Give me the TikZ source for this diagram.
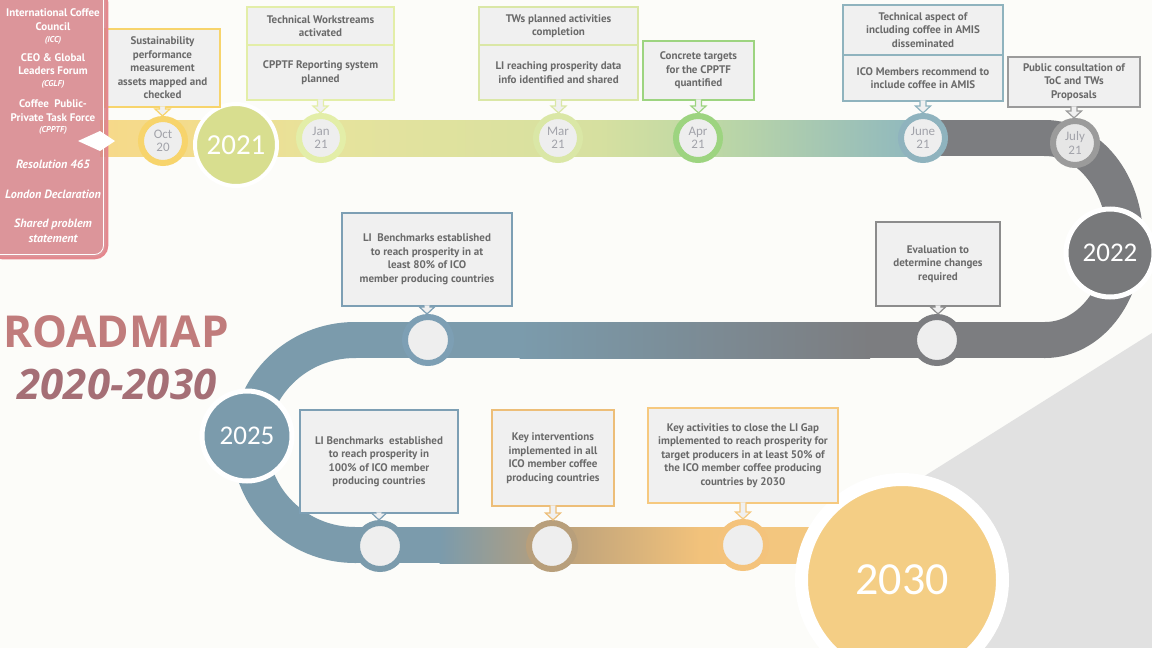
\documentclass[tikz,border=0pt]{standalone}
\usepackage{fontspec}
\setmainfont{PT Sans}
\newfontfamily\yearfont{Carlito}
\newfontfamily\titlefont{Open Sans}
\usetikzlibrary{calc,shapes.geometric}
\definecolor{bg}{HTML}{FCFCF9}
\definecolor{tri}{HTML}{E1E1E1}
\definecolor{boxfill}{HTML}{F0F0F0}
\definecolor{boxtext}{HTML}{6A6A6A}
\definecolor{innerc}{HTML}{EEEEEE}
\definecolor{monthtext}{HTML}{A2A3AA}
\definecolor{cyel}{HTML}{F7D46C}
\definecolor{cjan}{HTML}{E3EEA8}
\definecolor{cmar}{HTML}{DAE7A6}
\definecolor{capr}{HTML}{9DD480}
\definecolor{cjun}{HTML}{8FB3BE}
\definecolor{cjul}{HTML}{9B9B9B}
\definecolor{cblue}{HTML}{7B9BAC}
\definecolor{cblueb}{HTML}{7D9FB4}
\definecolor{cgray}{HTML}{7C7D80}
\definecolor{cgrayb}{HTML}{8C8C8C}
\definecolor{ctan}{HTML}{B89F7B}
\definecolor{ctanb}{HTML}{EDBE78}
\definecolor{corange}{HTML}{F4C37C}
\definecolor{corangeb}{HTML}{F6C97F}
\definecolor{c2021}{HTML}{D8DE8F}
\definecolor{c2022}{HTML}{78797B}
\definecolor{c2030}{HTML}{F4CE85}
\definecolor{panelfill}{HTML}{D7848A}
\definecolor{panelborder}{HTML}{E5888E}
\definecolor{roadc}{HTML}{C07C7C}
\definecolor{yrc}{HTML}{A56F76}
\newcommand\callout[3]{%
  \draw[draw=#3, fill=boxfill, line width=1.2, line join=miter]
    let \p1=(#1.south), \p2=(#2.north) in
    (\x1-3pt,\y1+1.5pt) -- (\x1-3pt,\y2+7pt) -- (\x1-7.5pt,\y2+7pt) -- (\x1,\y2)
    -- (\x1+7.5pt,\y2+7pt) -- (\x1+3pt,\y2+7pt) -- (\x1+3pt,\y1+1.5pt);}
\begin{document}
\begin{tikzpicture}[x=1pt,y=-1pt,
  box/.style={draw, fill=boxfill, line width=1.8, align=center, inner sep=2,
    font=\bfseries\fontsize{11}{13.5}\selectfont, text=boxtext},
  ms/.style={circle, fill=innerc, line width=6, minimum size=44, inner sep=0,
    font=\yearfont\fontsize{13}{13.5}\selectfont, text=monthtext, align=center},
  yc/.style={circle, draw=white, inner sep=0, text=white},
  ptxt/.style={text=white, align=center, inner sep=0, font=\bfseries\fontsize{11}{13.5}\selectfont},
  psub/.style={text=white, align=center, inner sep=0, font=\bfseries\itshape\fontsize{8.5}{9}\selectfont},
  pital/.style={text=white, align=center, inner sep=0, font=\bfseries\itshape\fontsize{12}{15}\selectfont},
  band/.style={line width=36}]
\useasboundingbox (0,0) rectangle (1152,648);
\fill[bg] (0,0) rectangle (1152,648);
% gray triangle
\fill[tri] (1152,333) -- (915,482) -- (915,648) -- (1152,648) -- cycle;
% top band
\fill[left color={rgb,255:red,246;green,217;blue,138}, right color={rgb,255:red,242;green,220;blue,140}] (100,120) rectangle (205,156);
\fill[left color={rgb,255:red,242;green,220;blue,140}, right color={rgb,255:red,230;green,227;blue,157}] (204.5,120) rectangle (330,156);
\fill[left color={rgb,255:red,230;green,227;blue,157}, right color={rgb,255:red,214;green,224;blue,160}] (329.5,120) rectangle (600,156);
\fill[left color={rgb,255:red,214;green,224;blue,160}, right color={rgb,255:red,188;green,215;blue,166}] (599.5,120) rectangle (720,156);
\fill[left color={rgb,255:red,188;green,215;blue,166}, right color={rgb,255:red,142;green,183;blue,191}] (719.5,120) rectangle (923,156);
\fill[cgray] (922,120) rectangle (1046,156);
% right curve
\draw[band, cgray] (1044,138) -- (1045,138) arc[start angle=-90, end angle=90, x radius=80, y radius=101] -- (1044,340);
% middle band
\fill[cblue] (355,322) rectangle (520,358);
\fill[left color=cblue, right color=cgray] (519.5,322) rectangle (870,358);
\fill[cgray] (869.5,322) rectangle (1046,358);
% left curve
\draw[band, cblue] (356,340) -- (355,340) arc[start angle=270, end angle=90, x radius=105, y radius=102.5] -- (356,545);
% bottom band
\fill[cblue] (354,527) rectangle (440,563);
\fill[left color=cblue, right color=ctan] (439.5,527) rectangle (552,563);
\fill[left color=ctan, right color={rgb,255:red,242;green,194;blue,123}] (551.5,527) rectangle (700,563);
\fill[left color={rgb,255:red,242;green,194;blue,123}, right color={rgb,255:red,244;green,203;blue,130}] (699.5,527) rectangle (880,563);

% milestone circles
\node[ms, draw=cyel] (c1) at (163,141) {Oct\\20};
\node[ms, draw=cjan] (c2) at (321,138) {Jan\\21};
\node[ms, draw=cmar] (c3) at (558,138) {Mar\\21};
\node[ms, draw=capr] (c4) at (698,138) {Apr\\21};
\node[ms, draw=cjun] (c5) at (923,138) {June\\21};
\node[ms, draw=cjul, fill={rgb,255:red,230;green,230;blue,230}] (c6) at (1075,143) {July\\21};
\node[ms, draw=cblueb, minimum size=46] (c7) at (428,340) {};
\node[ms, draw=cgray, minimum size=46] (c8) at (937,340) {};
\node[ms, draw=cblue, minimum size=46] (c9) at (380,546) {};
\node[ms, draw=ctan, minimum size=46] (c10) at (552,546) {};
\node[ms, draw=corange, minimum size=46] (c11) at (743,545) {};

% year circles
\node[yc, fill=c2021, line width=4, minimum size=82, font=\yearfont\fontsize{29}{29}\selectfont] (y21) at (236,145) {2021};
\node[yc, fill=c2022, line width=5, minimum size=88, font=\yearfont\fontsize{27}{27}\selectfont] (y22) at (1110,253) {2022};
\node[yc, fill=cblue, line width=5, minimum size=90, font=\yearfont\fontsize{27}{27}\selectfont] (y25) at (247,436) {2025};
\node[yc, fill=c2030, line width=13, minimum size=201, font=\yearfont\fontsize{46}{46}\selectfont] (y30) at (902,580) {2030};

% boxes
\node[box, draw=cyel, minimum width=115, minimum height=78] (b1) at (162.5,68) {Sustainability\\performance\\measurement\\assets mapped and\\checked};
\node[box, draw=cjan, minimum width=147, minimum height=38] (b2a) at (320.5,26) {Technical Workstreams\\activated};
\node[box, draw=cjan, minimum width=147, minimum height=55] (b2) at (320.5,72.5) {CPPTF Reporting system\\planned};
\node[box, draw=cmar, minimum width=159, minimum height=38] (b3a) at (558.5,26) {TWs planned activities\\completion};
\node[box, draw=cmar, minimum width=159, minimum height=55] (b3) at (558.5,72.5) {LI reaching prosperity data\\info identified and shared};
\node[box, draw=capr, minimum width=111, minimum height=59] (b4) at (698.5,70.5) {Concrete targets\\for the CPPTF\\quantified};
\node[box, draw=cjun, minimum width=160, minimum height=50] (b5a) at (923,30) {Technical aspect of\\including coffee in AMIS\\disseminated};
\node[box, draw=cjun, minimum width=160, minimum height=46] (b5) at (923,78) {ICO Members recommend to\\include coffee in AMIS};
\node[box, draw=cjul, minimum width=132, minimum height=50] (b6) at (1074,82) {Public consultation of\\ToC and TWs\\Proposals};
\node[box, draw=cblueb, minimum width=170, minimum height=93] (b7) at (427,259.5) {LI\ \ Benchmarks established\\to reach prosperity in at\\least 80\% of ICO\\member producing countries};
\node[box, draw=cgrayb, minimum width=124, minimum height=84] (b8) at (938,264) {Evaluation to\\determine changes\\required};
\node[box, draw=cblueb, minimum width=158, minimum height=103] (b9) at (379,461.5) {LI Benchmarks\ \ established\\to reach prosperity in\\100\% of ICO member\\producing countries};
\node[box, draw=ctanb, minimum width=122, minimum height=96] (b10) at (553,458) {Key interventions\\implemented in all\\ICO member coffee\\producing countries};
\node[box, draw=corangeb, minimum width=190, minimum height=95] (b11) at (743,455.5) {Key activities to close the LI Gap\\implemented to reach prosperity for\\target producers in at least 50\% of\\the ICO member coffee producing\\countries by 2030};

% callouts
\callout{b1}{c1}{cyel}
\callout{b2}{c2}{cjan}
\callout{b3}{c3}{cmar}
\callout{b4}{c4}{capr}
\callout{b5}{c5}{cjun}
\callout{b6}{c6}{cjul}
\callout{b7}{c7}{cblueb}
\callout{b8}{c8}{cgrayb}
\callout{b9}{c9}{cblueb}
\callout{b10}{c10}{ctanb}
\callout{b11}{c11}{corangeb}

% left panel
\fill[panelfill, fill opacity=0.85, rounded corners=12] (-10,-10) rectangle (107,258);
\draw[panelborder, line width=2.5, rounded corners=12] (-10,-10) rectangle (107,258);
\draw[white, line width=0.8, rounded corners=9] (-10,-10) rectangle (103.5,254.5);
\fill[white] (78,141) -- (100,131) -- (115,141) -- (100,151) -- cycle;
\node[ptxt] (p1) at (53,19.5) {International Coffee\\Council};
\node[psub] (p1s) at (53,40) {(ICC)};
\node[ptxt] (p2) at (53,64) {CEO \& Global\\Leaders Forum};
\node[psub] (p2s) at (53,84) {(CGLF)};
\node[ptxt] (p3) at (53,110.5) {Coffee\ \ Public-\\Private Task Force};
\node[psub] (p3s) at (53,130) {(CPPTF)};
\node[pital] (p4) at (53,164) {Resolution 465};
\node[pital] (p5) at (53,194) {London Declaration};
\node[pital] (p6) at (53,230.5) {Shared problem\\statement};

% title
\node[anchor=west, inner sep=0, text=roadc, font=\titlefont\bfseries\fontsize{44}{44}\selectfont] (rm) at (3,332) {ROADMAP};
\node[inner sep=0, text=yrc, font=\titlefont\bfseries\itshape\fontsize{42}{42}\selectfont] (yr) at (117,384) {2020-2030};
\end{tikzpicture}
\end{document}
